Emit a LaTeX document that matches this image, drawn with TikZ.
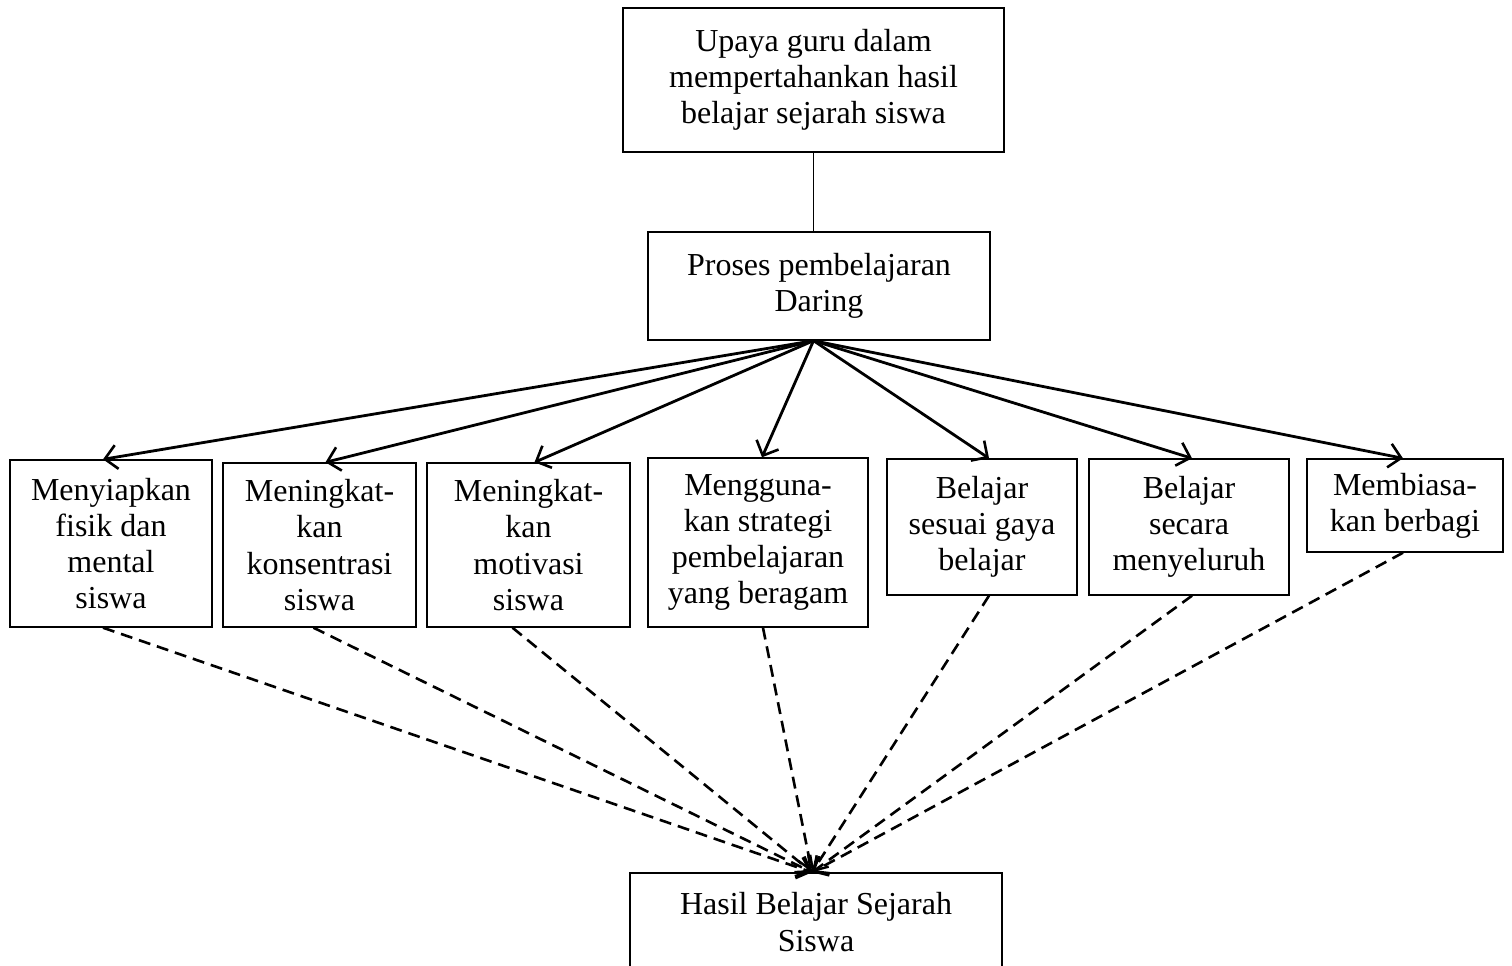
\documentclass[tikz,border=0pt]{standalone}
\usepackage{fontspec}
\setmainfont{Liberation Serif}
\usetikzlibrary{arrows.meta}
\begin{document}
\begin{tikzpicture}[x=1pt,y=-1pt,
  box/.style={draw,line width=1.4pt,rectangle,inner sep=0pt,align=center,
    font=\fontsize{32}{36.2}\selectfont},
  solidarrow/.style={line width=2.8pt,-{Straight Barb[length=12pt,width=24pt,line width=2.6pt]}},
  dasharrow/.style={line width=2.6pt,dash pattern=on 12pt off 7pt,-{Straight Barb[length=12pt,width=22pt,line width=2.4pt]}}]
\useasboundingbox (0,0) rectangle (1512,966);
\clip (0,0) rectangle (1512,966);
\node[box,minimum width=381pt,minimum height=144pt] (top) at (813.5,80) {Upaya guru dalam\\mempertahankan hasil\\belajar sejarah siswa};
\node[box,minimum width=342pt,minimum height=108pt] (p) at (819,286) {Proses pembelajaran\\Daring};
\node[box,minimum width=202pt,minimum height=167pt] (b1) at (111,543.5) {Menyiapkan\\fisik dan\\mental\\siswa};
\node[box,minimum width=193pt,minimum height=164pt] (b2) at (319.5,545) {Meningkat-\\kan\\konsentrasi\\siswa};
\node[box,minimum width=203pt,minimum height=164pt] (b3) at (528.5,545) {Meningkat-\\kan\\motivasi\\siswa};
\node[box,minimum width=220pt,minimum height=169pt] (b4) at (758,542.5) {Mengguna-\\kan strategi\\pembelajaran\\yang beragam};
\node[box,minimum width=190pt,minimum height=136pt] (b5) at (982,527) {Belajar\\sesuai gaya\\belajar};
\node[box,minimum width=200pt,minimum height=136pt] (b6) at (1189,527) {Belajar\\secara\\menyeluruh};
\node[box,minimum width=196pt,minimum height=93pt] (b7) at (1405,505.5) {Membiasa-\\kan berbagi};
\node[box,minimum width=372pt,minimum height=98pt] (bot) at (816,922) {Hasil Belajar Sejarah\\Siswa};
\coordinate (hub) at (top.south |- p.south);
\coordinate (sink) at ([xshift=-4pt]bot.north);
\draw[line width=1.7pt] (top.south) -- (top.south |- p.north);
\draw[solidarrow] (hub) -- ([xshift=-8pt]b1.north);
\draw[solidarrow] (hub) -- ([xshift=6pt]b2.north);
\draw[solidarrow] (hub) -- ([xshift=6pt]b3.north);
\draw[solidarrow] (hub) -- ([xshift=4pt]b4.north);
\draw[solidarrow] (hub) -- ([xshift=7pt]b5.north);
\draw[solidarrow] (hub) -- ([xshift=3pt]b6.north);
\draw[solidarrow] (hub) -- ([xshift=-2pt]b7.north);
\draw[dasharrow] ([xshift=-8pt]b1.south) -- (sink);
\draw[dasharrow] ([xshift=-6pt]b2.south) -- (sink);
\draw[dasharrow] ([xshift=-16pt]b3.south) -- (sink);
\draw[dasharrow] ([xshift=5pt]b4.south) -- (sink);
\draw[dasharrow] ([xshift=7pt]b5.south) -- (sink);
\draw[dasharrow] ([xshift=3pt]b6.south) -- (sink);
\draw[dasharrow] ([xshift=-2pt]b7.south) -- (sink);
\end{tikzpicture}
\end{document}
